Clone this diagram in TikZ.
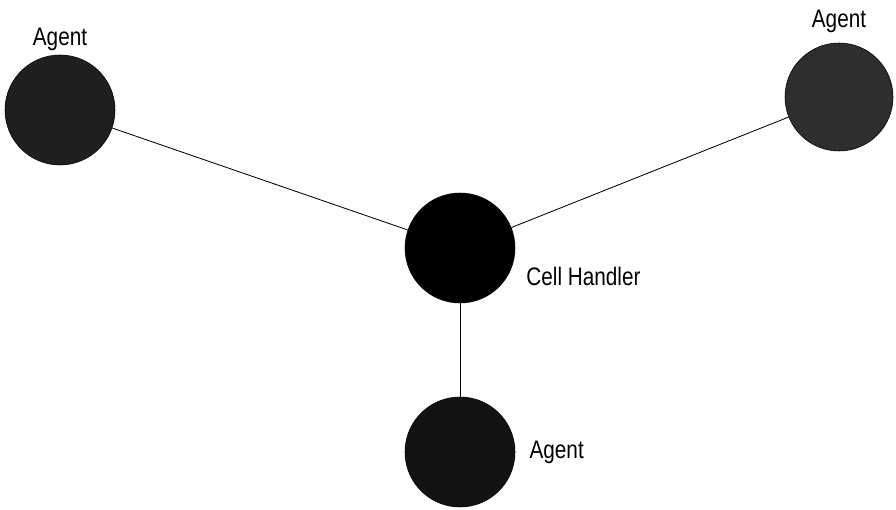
\documentclass[tikz,border=0pt]{standalone}
\usepackage{fontspec}
\newfontfamily\agentfont[FakeStretch=0.82]{Liberation Sans}
\usetikzlibrary{positioning}
\tikzset{
	agent/.style={circle, draw=black, fill=black!88, minimum size=2.75cm, inner sep=0pt},
	handler/.style={circle, draw=black, fill=black, minimum size=2.75cm, inner sep=0pt},
	tag/.style={font=\agentfont\fontsize{18}{20}\selectfont, inner sep=2pt},
	link/.style={line width=0.6pt, color=black}
}

\begin{document}
\begin{tikzpicture}
		%%%%% START %%%%%
		\useasboundingbox (0, 0) rectangle (22.4, 12.725);
		
		\node[handler] (cell) at (11.5, 6.525) {};
		\node[agent] (agentleft) at (1.5, 9.975) {};
		\node[agent, fill=black!82, minimum size=2.7cm] (agentright) at (20.975, 10.3) {};
		\node[agent, fill=black!93] (agentbottom) at (11.5, 1.425) {};
		
		\node[tag, above=0.02cm of agentleft] (leftlabel) {Agent};
		\node[tag, above=0.18cm of agentright] (rightlabel) {Agent};
		\node[tag, right=0.28cm of agentbottom] (bottomlabel) {Agent};
		\node[tag, anchor=west] (celllabel) at ([xshift=0.2cm, yshift=-0.72cm]cell.east) {Cell Handler};
		
		\draw[link] (agentleft) -- (cell);
		\draw[link] (cell) -- (agentright);
		\draw[link] (cell) -- (agentbottom);
		
		%%%%% END %%%%%
	\end{tikzpicture}
\end{document}
